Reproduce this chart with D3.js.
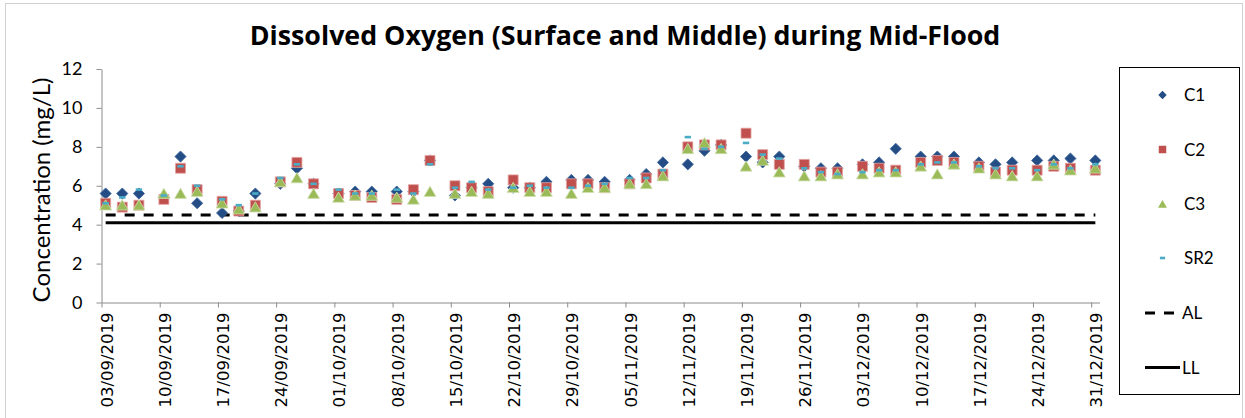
<!DOCTYPE html>
<html>
<head>
<meta charset="utf-8">
<script src="https://cdn.jsdelivr.net/npm/d3@7"></script>
<style>
  body { margin: 0; background: #fff; }
  svg { display: block; }
</style>
</head>
<body>
<svg id="chart" width="1245" height="418"></svg>
<script>
// sampling dates (Tue / Thu / Sat)
const dates = [
  "03/09/2019","05/09/2019","07/09/2019","10/09/2019","12/09/2019","14/09/2019",
  "17/09/2019","19/09/2019","21/09/2019","24/09/2019","26/09/2019","28/09/2019",
  "01/10/2019","03/10/2019","05/10/2019","08/10/2019","10/10/2019","12/10/2019",
  "15/10/2019","17/10/2019","19/10/2019","22/10/2019","24/10/2019","26/10/2019",
  "29/10/2019","31/10/2019","02/11/2019","05/11/2019","07/11/2019","09/11/2019",
  "12/11/2019","14/11/2019","16/11/2019","19/11/2019","21/11/2019","23/11/2019",
  "26/11/2019","28/11/2019","30/11/2019","03/12/2019","05/12/2019","07/12/2019",
  "10/12/2019","12/12/2019","14/12/2019","17/12/2019","19/12/2019","21/12/2019",
  "24/12/2019","26/12/2019","28/12/2019","31/12/2019"
];
const c1 = [5.6,5.6,5.6,5.4,7.5,5.1,4.6,4.7,5.6,6.1,6.9,6.1,5.6,5.7,5.7,5.7,5.7,7.3,5.5,5.9,
            6.1,5.9,5.9,6.2,6.3,6.3,6.2,6.3,6.6,7.2,7.1,7.8,8.1,7.5,7.2,7.5,7.0,6.9,6.9,7.1,
            7.2,7.9,7.5,7.5,7.5,7.2,7.1,7.2,7.3,7.3,7.4,7.3];
const c2 = [5.1,4.9,5.0,5.3,6.9,5.8,5.2,4.7,5.0,6.2,7.2,6.1,5.6,5.5,5.4,5.3,5.8,7.3,6.0,5.9,
            5.7,6.3,5.9,5.9,6.1,6.1,5.9,6.1,6.4,6.6,8.0,8.1,8.1,8.7,7.6,7.1,7.1,6.7,6.7,7.0,
            6.9,6.8,7.2,7.3,7.2,7.0,6.7,6.8,6.8,7.0,6.9,6.8];
const c3 = [5.0,5.0,5.0,5.6,5.6,5.7,5.1,4.8,4.9,6.2,6.4,5.6,5.4,5.5,5.5,5.4,5.3,5.7,5.6,5.7,
            5.6,5.9,5.7,5.7,5.6,5.9,5.9,6.1,6.1,6.5,7.9,8.2,7.9,7.0,7.3,6.7,6.5,6.5,6.6,6.6,
            6.7,6.7,7.0,6.6,7.1,6.9,6.6,6.5,6.5,7.1,6.8,6.9];
const sr2 = [5.1,5.4,5.8,5.5,7.0,6.0,5.3,5.0,5.6,6.4,7.1,6.1,5.8,5.6,5.6,5.8,5.6,7.1,5.9,6.2,
             5.8,5.9,6.0,5.9,5.9,6.0,6.1,6.4,6.4,6.8,8.5,7.9,8.0,8.2,7.6,7.4,6.9,6.7,6.6,6.7,
             6.8,6.8,7.1,7.2,7.2,7.0,6.9,6.9,6.8,7.1,6.9,7.1];
const actionLevel = 4.5;
const limitLevel = 4.1;
const tickLabels = ["03/09/2019","10/09/2019","17/09/2019","24/09/2019","01/10/2019",
  "08/10/2019","15/10/2019","22/10/2019","29/10/2019","05/11/2019","12/11/2019",
  "19/11/2019","26/11/2019","03/12/2019","10/12/2019","17/12/2019","24/12/2019","31/12/2019"];
const yTicks = [0,2,4,6,8,10,12];

const parse = d3.timeParse("%d/%m/%Y");
const svg = d3.select("#chart");

// outer frame
svg.append("rect").attr("x", 5.5).attr("y", 3.5).attr("width", 1237).attr("height", 430)
  .attr("fill", "none").attr("stroke", "#d0d0d0");

const plotLeft = 101.5, plotRight = 1099.5, plotTop = 69, plotBottom = 302.5;
const x = d3.scaleTime()
  .domain([parse("03/09/2019"), parse("01/01/2020")])
  .range([plotLeft, plotRight]);
const halfDay = (x(parse("04/09/2019")) - x(parse("03/09/2019"))) / 2;
const y = d3.scaleLinear().domain([0, 12]).range([plotBottom, plotTop]);

const px = d => x(parse(d)) + halfDay;

// title
svg.append("text")
  .attr("x", 625).attr("y", 45)
  .attr("text-anchor", "middle")
  .style("font-family", "Open Sans")
  .style("font-weight", "bold")
  .style("font-size", "26.8px")
  .text("Dissolved Oxygen (Surface and Middle) during Mid-Flood");

// y axis
let gy = svg.append("g").attr("transform", "translate(" + plotLeft + ",0)")
  .call(d3.axisLeft(y).tickValues(yTicks).tickSize(5).tickSizeOuter(0).tickPadding(14));
gy.select(".domain").attr("stroke", "#8c8c8c");
gy.selectAll(".tick line").attr("stroke", "#8c8c8c");
gy.selectAll(".tick text").style("font-family", "Lato").style("font-size", "18px").attr("fill", "#000");

svg.append("text")
  .attr("transform", "translate(50,190) rotate(-90)")
  .attr("text-anchor", "middle")
  .style("font-family", "Lato")
  .style("font-size", "24px")
  .text("Concentration (mg/L)");

// x axis
let gx = svg.append("g").attr("transform", "translate(0," + plotBottom + ")")
  .call(d3.axisBottom(x).tickValues(tickLabels.map(parse)).tickSize(5).tickSizeOuter(0).tickFormat(d3.timeFormat("%d/%m/%Y")));
gx.select(".domain").attr("stroke", "#8c8c8c");
gx.selectAll(".tick line").attr("stroke", "#8c8c8c");
gx.selectAll(".tick text")
  .attr("transform", "translate(" + (halfDay + 0.5) + ",10) rotate(-90)")
  .attr("x", 0).attr("y", 0).attr("dy", "0.36em")
  .attr("text-anchor", "end")
  .style("font-family", "DejaVu Sans")
  .style("font-size", "16.5px")
  .attr("fill", "#000");

// level lines
svg.append("path")
  .attr("d", d3.line().x(d => px(d)).y(() => y(actionLevel))(dates))
  .attr("fill", "none").attr("stroke", "#000").attr("stroke-width", 3)
  .attr("stroke-dasharray", "10,9");
svg.append("path")
  .attr("d", d3.line().x(d => px(d)).y(() => y(limitLevel))(dates))
  .attr("fill", "none").attr("stroke", "#000").attr("stroke-width", 3);

// marker shapes
const shapes = {
  diamond: s => `M0,${-s}L${s},0L0,${s}L${-s},0Z`,
  square: s => `M${-s},${-s}H${s}V${s}H${-s}Z`,
  triangle: s => `M0,${-s}L${s * 1.1},${s * 0.9}L${-s * 1.1},${s * 0.9}Z`,
  dash: s => `M${-s},-1.3H${s}V1.3H${-s}Z`
};

const series = [
  { name: "C1", values: c1, shape: "diamond", size: 5.6, fill: "#234d84", stroke: "#3a639a" },
  { name: "C2", values: c2, shape: "square", size: 5, fill: "#c0504d", stroke: "#e3a5a3" },
  { name: "C3", values: c3, shape: "triangle", size: 5.4, fill: "#9bbb59", stroke: "#cfe0b0" },
  { name: "SR2", values: sr2, shape: "dash", size: 3.2, fill: "#4bacc6", stroke: "none" }
];

series.forEach(s => {
  svg.append("g").selectAll("path")
    .data(s.values)
    .join("path")
    .attr("transform", (v, i) => "translate(" + px(dates[i]) + "," + y(v) + ")")
    .attr("d", shapes[s.shape](s.size))
    .attr("fill", s.fill)
    .attr("stroke", s.stroke)
    .attr("stroke-width", 0.8);
});

// legend
const lg = svg.append("g");
lg.append("rect").attr("x", 1119.5).attr("y", 67.5).attr("width", 120).attr("height", 327)
  .attr("fill", "#fff").attr("stroke", "#000").attr("stroke-width", 1);
const legendY = [95, 149.5, 204, 258, 313, 367.5];
series.forEach((s, i) => {
  lg.append("path")
    .attr("transform", "translate(1162.5," + legendY[i] + ")")
    .attr("d", shapes[s.shape](s.shape === "dash" ? 2.6 : s.size * 0.75))
    .attr("fill", s.fill);
  lg.append("text").attr("x", 1184).attr("y", legendY[i]).attr("dy", "0.36em")
    .style("font-family", "Lato").style("font-size", "17px").text(s.name);
});
lg.append("line").attr("x1", 1145).attr("x2", 1180).attr("y1", legendY[4]).attr("y2", legendY[4])
  .attr("stroke", "#000").attr("stroke-width", 3).attr("stroke-dasharray", "10,9");
lg.append("text").attr("x", 1182).attr("y", legendY[4]).attr("dy", "0.36em")
  .style("font-family", "Lato").style("font-size", "17px").text("AL");
lg.append("line").attr("x1", 1145).attr("x2", 1180).attr("y1", legendY[5]).attr("y2", legendY[5])
  .attr("stroke", "#000").attr("stroke-width", 3);
lg.append("text").attr("x", 1182).attr("y", legendY[5]).attr("dy", "0.36em")
  .style("font-family", "Lato").style("font-size", "17px").text("LL");
</script>
</body>
</html>
